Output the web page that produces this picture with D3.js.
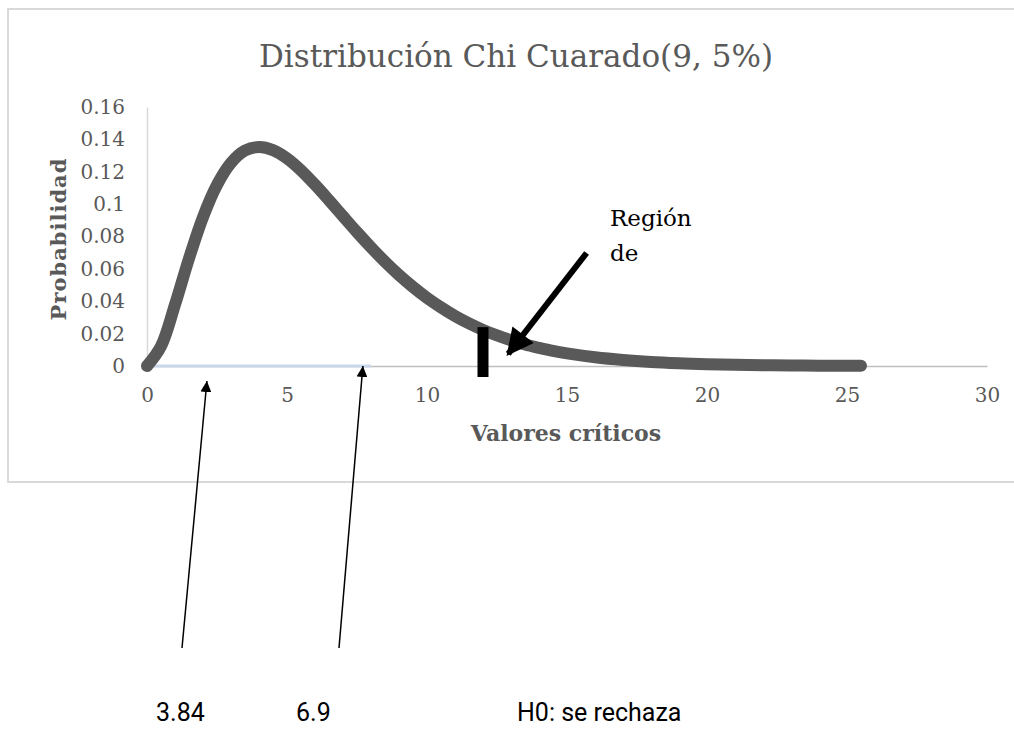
<!DOCTYPE html>
<html>
<head>
<meta charset="utf-8">
<script src="https://d3js.org/d3.v7.min.js"></script>
<style>
  body { margin: 0; background: #fff; }
  svg { display: block; }
</style>
</head>
<body>
<svg id="chart" width="1014" height="749"></svg>
<script>
// curve (x = valor crítico, y = probabilidad)
const xValues = [0, 0.5, 1, 1.5, 2, 2.5, 3, 3.5, 4, 4.5, 5, 5.5, 6, 6.5, 7, 7.5, 8, 8.5, 9, 9.5,
                 10, 10.5, 11, 11.5, 12, 12.5, 13, 13.5, 14, 14.5, 15, 16, 17, 18, 19, 20, 21, 22, 23, 24, 25, 25.5];
const probValues = [0, 0.0122, 0.0379, 0.0664, 0.092, 0.1119, 0.1255, 0.1331, 0.1353, 0.1334, 0.1283, 0.1209, 0.112, 0.1024, 0.0925, 0.0827, 0.0733, 0.0644, 0.0562, 0.0488,
                    0.0421, 0.0362, 0.0309, 0.0263, 0.0223, 0.0189, 0.0159, 0.0133, 0.0112, 0.0093, 0.0078, 0.0054, 0.0037, 0.0025, 0.0017, 0.0011, 0.0008, 0.0005, 0.0003, 0.0002, 0.0001, 0.0001];
// second (flat) series along zero
const zeroX = [0, 8];
const xTicks = [0, 5, 10, 15, 20, 25, 30];
const yTicks = [0, 0.02, 0.04, 0.06, 0.08, 0.1, 0.12, 0.14, 0.16];
const bottomLabels = ["3.84", "6.9", "H0: se rechaza"];

const svg = d3.select("#chart");
const gray = "#595959";
const serif = "'DejaVu Serif', serif";

// chart frame
svg.append("rect")
  .attr("x", 8).attr("y", 9).attr("width", 1020).attr("height", 473)
  .attr("fill", "none").attr("stroke", "#d9d9d9").attr("stroke-width", 2);

const xs = d3.scaleLinear().domain([0, 30]).range([147, 987]);
const ys = d3.scaleLinear().domain([0, 0.16]).range([366, 107]);

// title
svg.append("text")
  .attr("x", 516).attr("y", 67)
  .attr("text-anchor", "middle")
  .style("font-family", serif).style("font-size", "31px").style("fill", gray)
  .attr("textLength", 514).attr("lengthAdjust", "spacingAndGlyphs")
  .text("Distribución Chi Cuarado(9, 5%)");

// y axis
const yAxis = svg.append("g")
  .attr("transform", "translate(147,0)")
  .call(d3.axisLeft(ys).tickValues(yTicks).tickSize(0).tickPadding(22)
    .tickFormat(d => d === 0 ? "0" : d3.format(".2~f")(d)));
yAxis.select(".domain").attr("stroke", "#d9d9d9").attr("stroke-width", 1.5);
yAxis.selectAll("text").style("font-family", serif).style("font-size", "20px").style("fill", gray);

// x axis
const xAxis = svg.append("g")
  .attr("transform", "translate(0,366)")
  .call(d3.axisBottom(xs).tickValues(xTicks).tickSize(0).tickPadding(22));
xAxis.select(".domain").attr("stroke", "#bfbfbf").attr("stroke-width", 1.5);
xAxis.selectAll("text").style("font-family", serif).style("font-size", "20px").style("fill", gray);

// axis titles
svg.append("text")
  .attr("x", 566).attr("y", 441).attr("text-anchor", "middle")
  .style("font-family", serif).style("font-size", "22px").style("font-weight", "bold").style("fill", gray)
  .text("Valores críticos");

svg.append("text")
  .attr("transform", "translate(66,239) rotate(-90)")
  .attr("text-anchor", "middle")
  .style("font-family", serif).style("font-size", "21px").style("font-weight", "bold")
  .style("letter-spacing", "1px").style("fill", gray)
  .text("Probabilidad");

// flat light-blue series on zero
svg.append("path")
  .datum(zeroX)
  .attr("fill", "none").attr("stroke", "#c9d7ea").attr("stroke-width", 3)
  .attr("d", d3.line().x(d => xs(d)).y(() => ys(0)));

// main curve
const pts = xValues.map((x, i) => ({x: x, y: probValues[i]}));
svg.append("path")
  .datum(pts)
  .attr("fill", "none")
  .attr("stroke", gray)
  .attr("stroke-width", 12)
  .attr("stroke-linecap", "round")
  .attr("stroke-linejoin", "round")
  .attr("d", d3.line().curve(d3.curveCatmullRom.alpha(0.5)).x(d => xs(d.x)).y(d => ys(d.y)));

// arrow heads
const defs = svg.append("defs");
defs.append("marker").attr("id", "thinHead")
  .attr("viewBox", "0 0 10 10").attr("refX", 10).attr("refY", 5)
  .attr("markerWidth", 11).attr("markerHeight", 11).attr("markerUnits", "userSpaceOnUse")
  .attr("orient", "auto")
  .append("path").attr("d", "M0,0 L10,5 L0,10 Z").attr("fill", "#000");
defs.append("marker").attr("id", "thickHead")
  .attr("viewBox", "0 0 10 10").attr("refX", 9).attr("refY", 5)
  .attr("markerWidth", 5).attr("markerHeight", 4.5)
  .attr("orient", "auto")
  .append("path").attr("d", "M0,0 L10,5 L0,10 Z").attr("fill", "#000");

// critical value bar
svg.append("line")
  .attr("x1", xs(12)).attr("x2", xs(12))
  .attr("y1", ys(0.024)).attr("y2", ys(-0.0068))
  .attr("stroke", "#000").attr("stroke-width", 11);

// thick arrow to rejection region
svg.append("line")
  .attr("x1", xs(15.7)).attr("y1", ys(0.0698))
  .attr("x2", xs(12.9)).attr("y2", ys(0.0075))
  .attr("stroke", "#000").attr("stroke-width", 6)
  .attr("marker-end", "url(#thickHead)");

svg.append("text")
  .attr("x", 610).attr("y", 226)
  .style("font-family", serif).style("font-size", "23px").style("fill", "#000")
  .text("Región");
svg.append("text")
  .attr("x", 610).attr("y", 261)
  .style("font-family", serif).style("font-size", "23px").style("fill", "#000")
  .text("de");

// thin arrows from the labels below
const thinArrows = [
  {x1: 182, y1: 648, x2: xs(2.14), y2: 381},
  {x1: 339, y1: 648, x2: xs(7.71), y2: 366}
];
svg.selectAll(".thin").data(thinArrows).enter().append("line")
  .attr("x1", d => d.x1).attr("y1", d => d.y1)
  .attr("x2", d => d.x2).attr("y2", d => d.y2)
  .attr("stroke", "#000").attr("stroke-width", 1.5)
  .attr("marker-end", "url(#thinHead)");

// labels under the chart
const labelX = [156, 296, 517];
svg.selectAll(".blabel").data(bottomLabels).enter().append("text")
  .attr("x", (d, i) => labelX[i]).attr("y", 721)
  .style("font-family", "Roboto, 'Liberation Sans', Arial, sans-serif").style("font-size", "25px").style("fill", "#000")
  .text(d => d);
</script>
</body>
</html>
